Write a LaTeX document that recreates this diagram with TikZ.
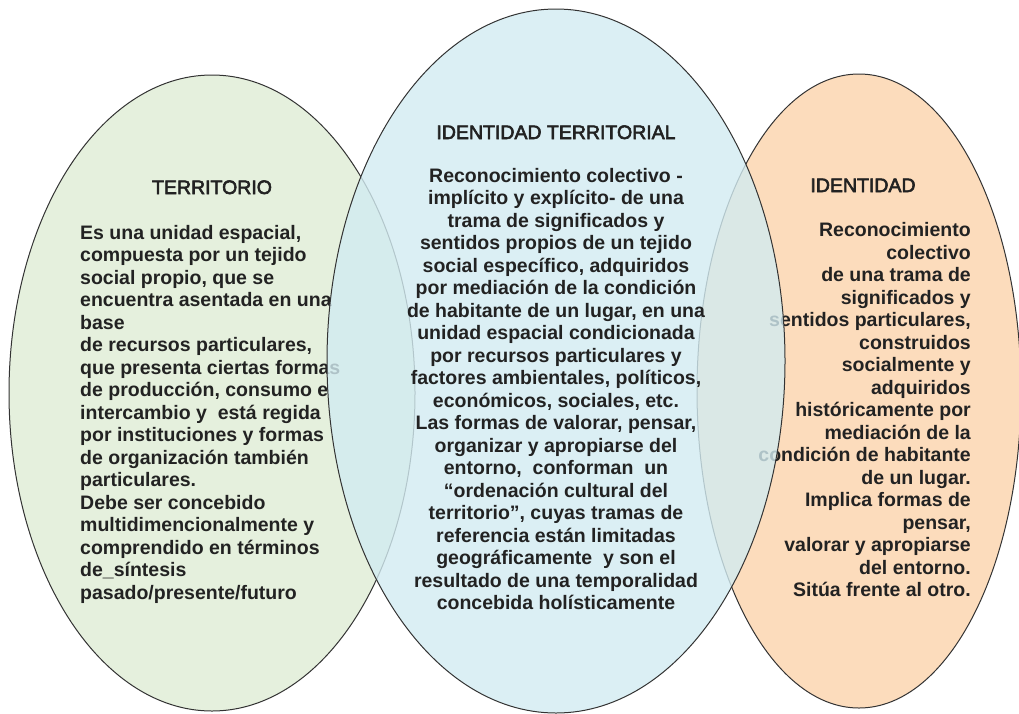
\documentclass[tikz,border=0pt]{standalone}
\usepackage{fontspec}
\setmainfont{Liberation Sans}
\newfontfamily\titfont[FakeBold=3]{Liberation Sans}
\definecolor{verdeterr}{RGB}{229,240,221}
\definecolor{azulid}{RGB}{210,235,241}
\definecolor{naranjaid}{RGB}{252,220,188}
\definecolor{tinta}{RGB}{34,34,34}

\begin{document}
\begin{tikzpicture}[x=1pt,y=-1pt,
    venn/.style={draw=black!80, line width=1pt},
    titulo/.style={font=\titfont\fontsize{19.5}{22.5}\selectfont, text=tinta, inner sep=0pt},
    cuerpo/.style={font=\fontsize{19.5}{22.5}\selectfont\bfseries, text=tinta, inner sep=0pt}]
    \useasboundingbox (0,0) rectangle (1019,713);

    % Territorio (izquierda)
    \draw[venn, fill=verdeterr] (212,393) ellipse (203pt and 318pt);
    % Identidad (derecha)
    \draw[venn, fill=naranjaid] (859,391) ellipse (162pt and 317pt);

    \node[titulo, anchor=base] (titterr) at (212,194) {TERRITORIO};
    \node[cuerpo, anchor=north west, align=left] (txtterr) at (80,225) {%
        Es una unidad espacial,\\
        compuesta por un tejido\\
        social propio, que se\\
        encuentra asentada en una\\
        base\\
        de recursos particulares,\\
        que presenta ciertas formas\\
        de producción, consumo e\\
        intercambio y~ está regida\\
        por instituciones y formas\\
        de organización también\\
        particulares.\\
        Debe ser concebido\\
        multidimencionalmente y\\
        comprendido en términos\\
        de\_síntesis\\
        pasado/presente/futuro};

    \node[titulo, anchor=base] (titid) at (863,192) {IDENTIDAD};
    \node[cuerpo, anchor=north east, align=right] (txtid) at (971,222.5) {%
        Reconocimiento\\
        colectivo\\
        de una trama de\\
        significados y\\
        sentidos particulares,\\
        construidos\\
        socialmente y\\
        adquiridos\\
        históricamente por\\
        mediación de la\\
        condición de habitante\\
        de un lugar.\\
        Implica formas de\\
        pensar,\\
        valorar y apropiarse\\
        del entorno.\\
        Sitúa frente al otro.};

    % Identidad territorial (centro, encima)
    \draw[venn, fill=azulid, fill opacity=0.8] (556,361) ellipse (229pt and 352pt);

    \node[titulo, anchor=base] (titidter) at (556,139) {IDENTIDAD TERRITORIAL};
    \node[cuerpo, anchor=north, align=center] (txtidter) at (556,168) {%
        Reconocimiento colectivo -\\
        implícito y explícito- de una\\
        trama de significados y\\
        sentidos propios de un tejido\\
        social específico, adquiridos\\
        por mediación de la condición\\
        de habitante de un lugar, en una\\
        unidad espacial condicionada\\
        por recursos particulares y\\
        factores ambientales, políticos,\\
        económicos, sociales, etc.\\
        Las formas de valorar, pensar,\\
        organizar y apropiarse del\\
        entorno,~ conforman~ un\\
        “ordenación cultural del\\
        territorio”, cuyas tramas de\\
        referencia están limitadas\\
        geográficamente~ y son el\\
        resultado de una temporalidad\\
        concebida holísticamente};
\end{tikzpicture}
\end{document}
